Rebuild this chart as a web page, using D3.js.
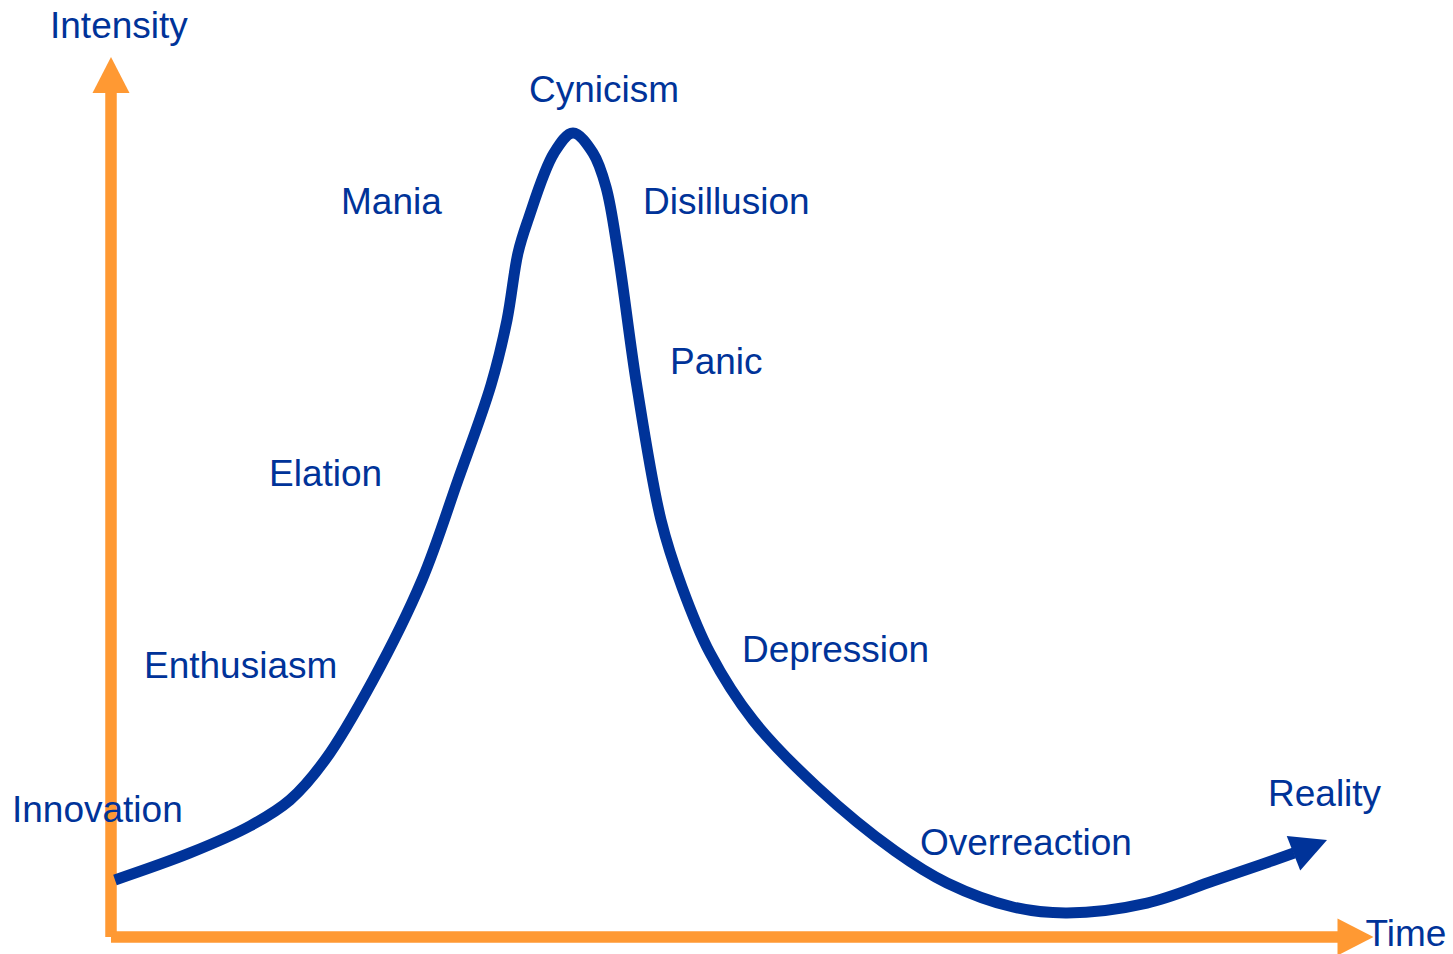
<!DOCTYPE html>
<meta charset="utf-8">
<style>
  body { margin: 0; background: #fff; }
  text {
    font-family: "Liberation Sans", Arial, sans-serif;
    font-size: 37px;
    fill: #003399;
  }
</style>
<svg width="1453" height="954"></svg>
<script src="https://d3js.org/d3.v7.min.js"></script>
<script>

// cycle curve: time (0-100) vs intensity (0-100)
var curveTime = [0.32, 6.32, 11.12, 14.32, 17.12, 20.96, 24.88, 27.76, 30.4, 31.68,
  32.56, 33.36, 35.44, 36.96, 38.56, 39.6, 40.56, 42.08, 44.0, 45.68,
  47.92, 51.36, 56.48, 62.72, 66.88, 72.16, 76.48, 82.88, 88.16, 91.92,
  94.64, 97.28];
var curveIntensity = [6.48, 9.55, 12.61, 15.57, 20.11, 29.2, 40.57, 51.93, 62.73, 70.11,
  77.73, 81.48, 89.09, 91.36, 89.09, 85.23, 77.73, 62.5, 47.39, 39.77,
  32.27, 24.66, 17.05, 9.77, 6.14, 3.41, 2.73, 3.86, 6.36, 8.18,
  9.55, 11.02];

// phase labels and where they sit (time, intensity)
var phases = ["Innovation", "Enthusiasm", "Elation", "Mania", "Cynicism",
  "Disillusion", "Panic", "Depression", "Overreaction", "Reality"];
var phaseTime = [-7.92, 2.64, 12.64, 18.4, 33.44, 42.56, 44.72, 50.48, 64.72, 92.56];
var phaseIntensity = [13.07, 29.43, 51.25, 82.16, 94.89, 82.16, 63.98, 31.25, 9.32, 14.89];

var axisTitles = ["Time", "Intensity"];

var blue = "#003399", orange = "#FF9933";

var svg = d3.select("svg");

var x = d3.scaleLinear().domain([0, 101]).range([111, 1373.5]);
var y = d3.scaleLinear().domain([0, 100]).range([937, 57]);

// arrow helper: triangle with tip at (tx,ty) pointing along angle a
function head(tx, ty, a, len, w) {
  var bx = tx - len * Math.cos(a), by = ty - len * Math.sin(a);
  var nx = -Math.sin(a) * w / 2, ny = Math.cos(a) * w / 2;
  return "M" + tx + "," + ty + "L" + (bx + nx) + "," + (by + ny) + "L" + (bx - nx) + "," + (by - ny) + "Z";
}

var axes = svg.append("g");
var headLen = 36, headW = 37, axisW = 11.5;

// y axis
axes.append("line")
  .attr("x1", x(0)).attr("x2", x(0))
  .attr("y1", y(0)).attr("y2", y(100) + headLen - 1)
  .attr("stroke", orange).attr("stroke-width", axisW);
axes.append("path")
  .attr("d", head(x(0), y(100), -Math.PI / 2, headLen, headW))
  .attr("fill", orange);

// x axis
axes.append("line")
  .attr("x1", x(0)).attr("x2", x(101) - headLen + 1)
  .attr("y1", y(0)).attr("y2", y(0))
  .attr("stroke", orange).attr("stroke-width", axisW);
axes.append("path")
  .attr("d", head(x(101), y(0), 0, headLen, headW))
  .attr("fill", orange);

// the curve
var pts = curveTime.map(function(t, i) { return [x(t), y(curveIntensity[i])]; });
var tip = pts[pts.length - 1], base = pts[pts.length - 2];

var line = d3.line().curve(d3.curveCatmullRom.alpha(0.5));
svg.append("path")
  .attr("d", line(pts.slice(0, -1)))
  .attr("fill", "none")
  .attr("stroke", blue)
  .attr("stroke-width", 11);

var ang = Math.atan2(tip[1] - base[1], tip[0] - base[0]);
svg.append("path")
  .attr("d", head(tip[0], tip[1], ang, 36, 37))
  .attr("fill", blue);

// labels
svg.append("g").selectAll("text")
  .data(phases)
  .enter().append("text")
  .attr("x", function(d, i) { return x(phaseTime[i]); })
  .attr("y", function(d, i) { return y(phaseIntensity[i]); })
  .text(function(d) { return d; });

svg.append("text")
  .attr("x", x(101) - 8).attr("y", y(0) + 9)
  .text(axisTitles[0]);

svg.append("text")
  .attr("x", x(0) - 61).attr("y", y(100) - 19)
  .text(axisTitles[1]);

</script>
